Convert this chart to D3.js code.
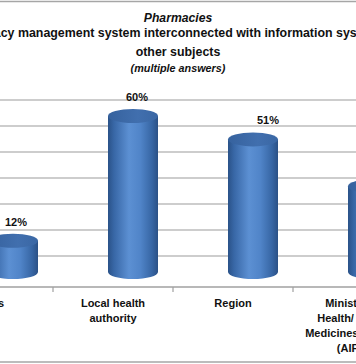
<!DOCTYPE html>
<html><head><meta charset="utf-8">
<script src="https://cdn.jsdelivr.net/npm/d3@7"></script>
<style>html,body{margin:0;padding:0;background:#fff}svg{display:block}</style>
</head><body>
<script>
// ---- data ----
const categories = ["GPs", "Local health authority", "Region", "Ministry of Health/ Italian Medicines Agency (AIFA)"];
const categoryLines = [["GPs"], ["Local health", "authority"], ["Region"], ["Ministry of", "Health/ Italian", "Medicines Agency", "(AIFA)"]];
const values = [12, 60, 51, 33];
const valueLabels = ["12%", "60%", "51%", "33%"];
const yTicks = [0, 10, 20, 30, 40, 50, 60];
const titleLines = ["Pharmacies", "Pharmacy management system interconnected with information systems of", "other subjects", "(multiple answers)"];

// ---- layout ----
const W = 356, H = 364;
const font = "'Liberation Sans', Arial, sans-serif";
const svg = d3.select("body").append("svg").attr("width", W).attr("height", H);

const x = d3.scaleBand().domain(categories).range([-67, 413]).padding(0);
const y = d3.scaleLinear().domain([0, 60]).range([256, 100]);
const depthX = 20, depthY = 16, barW = 50, ry = 7;
const labelDx = [3, 4, 15, 15];

// borders (cropped chart area)
svg.append("line").attr("x1", 0).attr("x2", W).attr("y1", 1.5).attr("y2", 1.5).attr("stroke", "#a6a6a6").attr("stroke-width", 1.5);
svg.append("line").attr("x1", 0).attr("x2", W).attr("y1", 362).attr("y2", 362).attr("stroke", "#a6a6a6").attr("stroke-width", 1.5);

// gridlines
svg.append("g").selectAll("line").data(yTicks).join("line")
  .attr("x1", 0).attr("x2", W)
  .attr("y1", d => y(d)).attr("y2", d => y(d))
  .attr("stroke", "#bdbdbd").attr("stroke-width", 1.3);

// category axis
const axisY = 287;
const axis = svg.append("g").attr("transform", `translate(0,${axisY})`)
  .call(d3.axisBottom(x).tickSize(0).tickFormat(""));
axis.select(".domain").remove();
axis.append("line").attr("x1", 0).attr("x2", W).attr("stroke", "#a0a0a0").attr("stroke-width", 1.3);
axis.selectAll(".tickmark").data(categories.slice(1)).join("line")
  .attr("x1", d => x(d)).attr("x2", d => x(d)).attr("y1", 0).attr("y2", 5)
  .attr("stroke", "#a0a0a0").attr("stroke-width", 1.2);

// gradients
const defs = svg.append("defs");
const g1 = defs.append("linearGradient").attr("id", "body").attr("x1", "0").attr("x2", "1").attr("y1", "0").attr("y2", "0");
[["0%", "#2a5288"], ["12%", "#3867a6"], ["42%", "#5c90d3"], ["65%", "#5084c8"], ["88%", "#3766a4"], ["100%", "#2b5186"]]
  .forEach(([o, c]) => g1.append("stop").attr("offset", o).attr("stop-color", c));
const g2 = defs.append("linearGradient").attr("id", "top").attr("x1", "0").attr("x2", "1").attr("y1", "0").attr("y2", "0");
[["0%", "#36629e"], ["60%", "#416fae"], ["100%", "#3a67a4"]]
  .forEach(([o, c]) => g2.append("stop").attr("offset", o).attr("stop-color", c));

// cylinders
const bars = svg.append("g").selectAll("g").data(values).join("g");
bars.each(function (v, i) {
  const cx = x(categories[i]) + x.bandwidth() / 2 + depthX;
  const x0 = cx - barW / 2, x1 = cx + barW / 2, rx = barW / 2;
  const yt = y(v) + depthY, yb = y(0) + depthY;
  const gg = d3.select(this);
  gg.append("path")
    .attr("d", `M${x0},${yt} L${x0},${yb} A${rx},${ry} 0 0 0 ${x1},${yb} L${x1},${yt} Z`)
    .attr("fill", "url(#body)");
  gg.append("ellipse").attr("cx", cx).attr("cy", yt).attr("rx", rx).attr("ry", ry)
    .attr("fill", "url(#top)");
  gg.append("text").attr("x", cx + labelDx[i]).attr("y", yt - ry - 8)
    .attr("text-anchor", "middle").attr("font-family", font).attr("font-weight", "bold")
    .attr("font-size", 11).attr("fill", "#111").text(valueLabels[i]);
});

// category labels
svg.append("g").selectAll("text").data(categories).join("text")
  .attr("text-anchor", "middle").attr("font-family", font).attr("font-weight", "bold")
  .attr("font-size", 11).attr("fill", "#111")
  .each(function (d, i) {
    const t = d3.select(this);
    categoryLines[i].forEach((ln, k) => {
      t.append("tspan").attr("x", x(d) + x.bandwidth() / 2).attr("y", 307 + k * 15).text(ln);
    });
  });

// title
const tY = [22, 37, 56, 72];
const tStyle = [["italic", 12.2], ["normal", 12.4], ["normal", 12.4], ["italic", 10.8]];
svg.append("g").selectAll("text").data(titleLines).join("text")
  .attr("x", W / 2).attr("y", (d, i) => tY[i]).attr("text-anchor", "middle")
  .attr("font-family", font).attr("font-weight", "bold")
  .attr("font-style", (d, i) => tStyle[i][0]).attr("font-size", (d, i) => tStyle[i][1])
  .attr("fill", "#111").text(d => d);
</script>
</body></html>
